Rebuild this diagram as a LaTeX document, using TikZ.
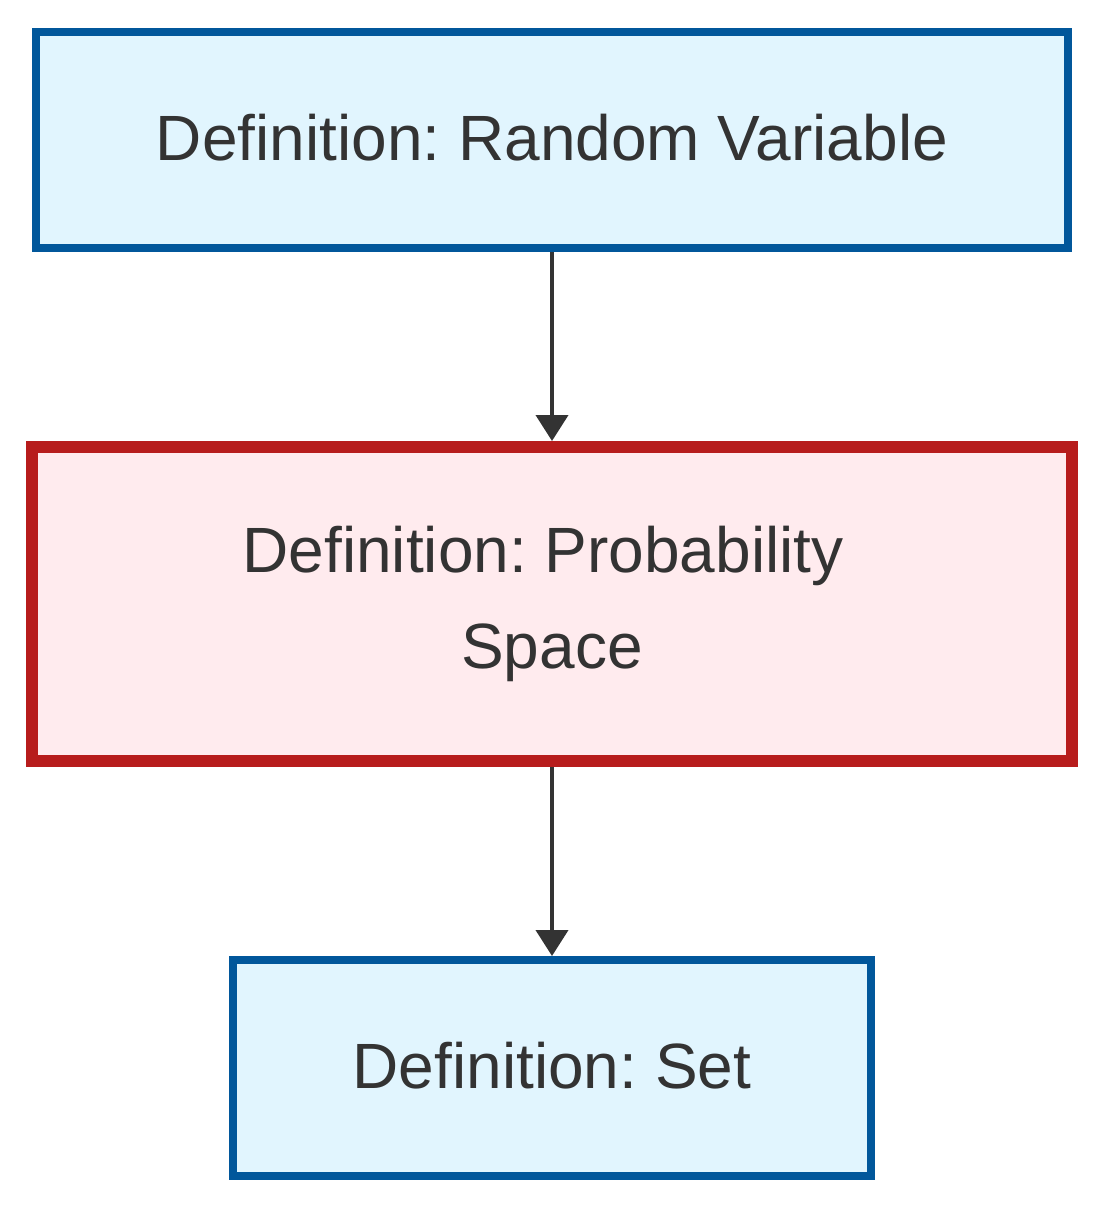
\documentclass[tikz,border=0pt]{standalone}
\usepackage{fontspec}
\setmainfont{Liberation Sans}
\usetikzlibrary{arrows.meta}
\definecolor{bluebd}{HTML}{01579B}
\definecolor{bluefill}{HTML}{E1F5FE}
\definecolor{redbd}{HTML}{B71C1C}
\definecolor{redfill}{HTML}{FFEBEE}
\definecolor{txt}{HTML}{333333}
\begin{document}
\frenchspacing
\begin{tikzpicture}[x=1pt,y=-1pt,
  box/.style={rectangle, inner sep=0pt, text=txt, align=center,
    font=\fontsize{64}{96}\selectfont\frenchspacing},
  bluebox/.style={box, draw=bluebd, fill=bluefill, line width=8pt, text depth=6pt},
  redbox/.style={box, draw=redbd, fill=redfill, line width=12pt},
  arr/.style={draw=txt, line width=4pt, -{Triangle[length=26pt,width=32pt]}}]
\useasboundingbox (0,0) rectangle (1104,1208);
\node[bluebox, minimum width=1032pt, minimum height=216pt] (rv) at (552,140) {Definition: Random Variable};
\node[redbox, minimum width=1040pt, minimum height=314pt] (ps) at (552,604) {Definition: Probability\hspace*{0.28em}\\Space};
\node[bluebox, minimum width=638pt, minimum height=216pt] (set) at (552,1068) {Definition: Set};
\draw[arr] (rv) -- (ps);
\draw[arr] (ps) -- (set);
\end{tikzpicture}
\end{document}
